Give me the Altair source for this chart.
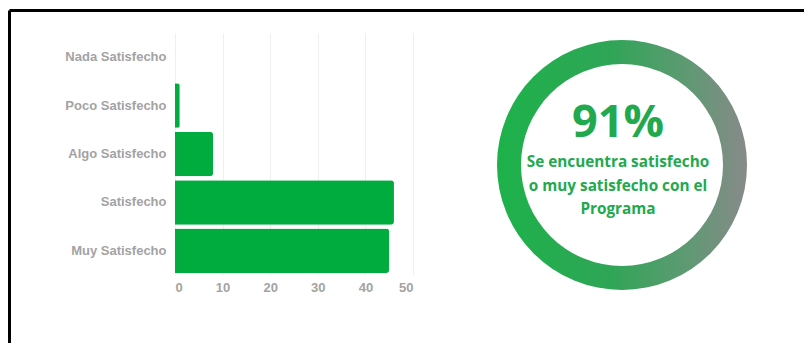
import altair as alt
import pandas as pd

categories = ["Nada Satisfecho", "Poco Satisfecho", "Algo Satisfecho", "Satisfecho", "Muy Satisfecho"]
counts = [0, 1, 8, 46, 45]
x_ticks = [0, 10, 20, 30, 40, 50]
ring_value = [1]
big_label = ["91%"]
caption_lines = ["Se encuentra satisfecho", "o muy satisfecho con el", "Programa"]

bars_df = pd.DataFrame({"cat": categories, "n": counts})
ring_df = pd.DataFrame({"v": ring_value})
big_df = pd.DataFrame({"t": big_label})
cap_df = pd.DataFrame({"t": ["\n".join(caption_lines)]})
frame_df = pd.DataFrame({"k": [1]})

GREEN = "#00AC3E"
TXT_GREEN = "#22A94D"
LABEL_GRAY = "#a3a3a3"

bars = alt.Chart(bars_df).mark_bar(color=GREEN, cornerRadiusEnd=3).encode(
    x=alt.X("n:Q", scale=alt.Scale(domain=[0, 50], nice=False),
            axis=alt.Axis(values=x_ticks, title=None, domain=False, ticks=False,
                          grid=True, gridColor="#efefef", gridWidth=1,
                          labelColor=LABEL_GRAY, labelFont="Liberation Sans",
                          labelFontWeight="bold", labelFontSize=13, labelPadding=6)),
    y=alt.Y("cat:N", sort=categories,
            scale=alt.Scale(paddingInner=0.08, paddingOuter=0.04),
            axis=alt.Axis(title=None, domain=False, ticks=False, grid=False,
                          labelColor=LABEL_GRAY, labelFont="Liberation Sans",
                          labelFontWeight="bold", labelFontSize=13, labelPadding=9)),
)

ring = alt.Chart(ring_df).mark_arc(
    radius=125, radius2=101,
    fill=alt.LinearGradient(
        gradient="linear", x1=0, x2=1, y1=0, y2=0,
        stops=[alt.GradientStop(offset=0, color="#1db24a"),
               alt.GradientStop(offset=0.45, color="#2fa556"),
               alt.GradientStop(offset=0.75, color="#5d9a72"),
               alt.GradientStop(offset=1, color="#878a89")]),
).encode(
    theta=alt.Theta("v:Q"),
    x=alt.value(447), y=alt.value(132),
)

big = alt.Chart(big_df).mark_text(
    font="Open Sans", fontWeight="bold", fontSize=45, color=TXT_GREEN,
    align="center", baseline="alphabetic",
).encode(text="t:N", x=alt.value(443), y=alt.value(104))

cap = alt.Chart(cap_df).mark_text(
    font="Open Sans", fontWeight="bold", fontSize=15.3, color=TXT_GREEN,
    align="center", baseline="alphabetic", lineBreak="\n", lineHeight=23.5,
).encode(text="t:N", x=alt.value(443), y=alt.value(134))

frame_top = alt.Chart(frame_df).mark_rule(color="#000000", strokeWidth=3).encode(
    x=alt.value(-165.5), x2=alt.value(629), y=alt.value(-22.5))
frame_left = alt.Chart(frame_df).mark_rule(color="#000000", strokeWidth=3).encode(
    x=alt.value(-165.5), y=alt.value(-22.5), y2=alt.value(310))

chart = alt.layer(bars, ring, big, cap, frame_top, frame_left).properties(
    width=238, height=242,
    padding={"left": 8, "top": 9, "right": 0, "bottom": 0},
    background="white",
).configure_view(stroke=None)

chart.save("out.html", embed_options={"renderer": "svg", "actions": False})
